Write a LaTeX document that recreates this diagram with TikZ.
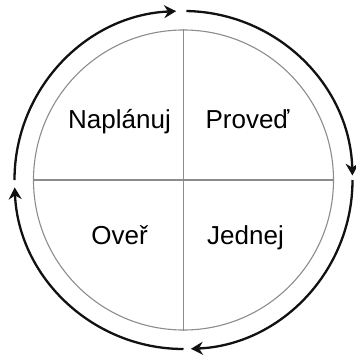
\documentclass[tikz,border=0pt]{standalone}
\usepackage{fontspec}
\setmainfont{Liberation Sans}
\usetikzlibrary{positioning, arrows.meta, calc}
\definecolor{RingGray}  {HTML}{8C8C8C}
\definecolor{CycleInk}  {HTML}{111111}

\begin{document}
\begin{tikzpicture}[x=1pt, y=1pt,
    quad/.style={anchor=base, font=\fontsize{26}{30}\selectfont},
    cycarc/.style={draw=CycleInk, line width=2.3pt,
                   -{Stealth[length=12pt, width=13pt, inset=4pt]}}]
  \useasboundingbox (0,0) rectangle (356,354);
  \coordinate (c) at (183.5,174);

  % inner ring and quadrants
  \node[circle, draw=RingGray, line width=1.1pt, minimum size=300pt,
        inner sep=0pt] (ring) at (c) {};
  \draw[RingGray, line width=1.1pt] (ring.north) -- (ring.south);
  \draw[RingGray, line width=1.1pt] (ring.west) -- (ring.east);

  \node[quad] (plan) at ($(c)+(-64,51)$) {Naplánuj};
  \node[quad] (doit) at ($(c)+(64,51)$) {Proveď};
  \node[quad] (check) at ($(c)+(-64,-64)$) {Oveř};
  \node[quad] (act) at ($(c)+(62,-64)$) {Jednej};

  % outer cycle
  \foreach \a in {180,89,0,-90}
    \draw[cycarc] ([shift={(\a:169)}]c) arc[start angle=\a, delta angle=-87.5, radius=169];
\end{tikzpicture}
\end{document}
